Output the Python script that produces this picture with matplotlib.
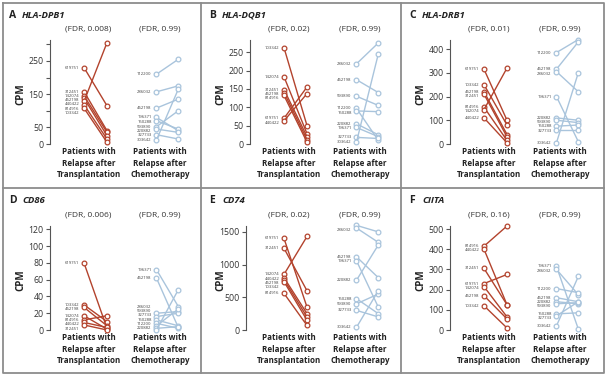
#!/usr/bin/env python3

import matplotlib
matplotlib.use("Agg")
import matplotlib.pyplot as plt
from matplotlib.lines import Line2D

plt.rcParams["font.family"] = ["Open Sans", "DejaVu Sans"]

RED = "#b3432d"
BLUE = "#a9c4dc"
GREY = "#555555"

# ---- data, one block per panel ----
a_gene = "HLA-DPB1"
a_fdr = ("(FDR, 0.008)", "(FDR, 0.99)")
a_tx_ids = ["619751", "312451", "142074", "452198", "440422", "814916", "103342"]
a_tx_pre = [230, 158, 145, 138, 128, 118, 108]
a_tx_post = [115, 40, 35, 25, 305, 15, 5]
a_ch_ids = ["112200", "286032", "452198", "196371", "150288", "593890", "220882", "327733", "303642"]
a_ch_pre = [210, 157, 108, 80, 70, 52, 45, 28, 12]
a_ch_post = [255, 175, 135, 40, 45, 100, 35, 15, 165]
a_ticks = [0, 50, 100, 150, 200, 250, 300]
a_ticklabels = ["0", "50", "", "150", "", "250", ""]

b_gene = "HLA-DQB1"
b_fdr = ("(FDR, 0.02)", "(FDR, 0.99)")
b_tx_ids = ["103342", "142074", "312451", "452198", "814916", "619751", "440422"]
b_tx_pre = [262, 183, 148, 140, 132, 70, 63]
b_tx_post = [50, 28, 20, 12, 5, 155, 137]
b_ch_ids = ["286032", "452198", "593890", "112200", "150288", "220882", "196371", "327733", "303642"]
b_ch_pre = [218, 175, 130, 97, 90, 55, 45, 18, 5]
b_ch_post = [275, 140, 105, 10, 88, 25, 20, 15, 245]
b_ticks = [0, 50, 100, 150, 200, 250]
b_ticklabels = ["0", "50", "100", "150", "200", "250"]

c_gene = "HLA-DRB1"
c_fdr = ("(FDR, 0.01)", "(FDR, 0.99)")
c_tx_ids = ["619751", "103342", "452198", "312451", "814916", "142074", "440422"]
c_tx_pre = [315, 250, 220, 210, 155, 145, 110]
c_tx_post = [100, 80, 40, 30, 15, 320, 5]
c_ch_ids = ["112200", "452198", "286032", "196371", "220882", "593890", "150288", "327733", "303642"]
c_ch_pre = [385, 315, 305, 200, 110, 100, 75, 60, 5]
c_ch_post = [440, 430, 220, 10, 100, 90, 80, 60, 300]
c_ticks = [0, 100, 200, 300, 400]
c_ticklabels = ["0", "100", "200", "300", "400"]

d_gene = "CD86"
d_fdr = ("(FDR, 0.006)", "(FDR, 0.99)")
d_tx_ids = ["619751", "103342", "452198", "142074", "814916", "440422", "312451"]
d_tx_pre = [80, 30, 27, 17, 12, 9, 6]
d_tx_post = [2, 10, 5, 1, 17, 3, 0]
d_ch_ids = ["196371", "452198", "286032", "593890", "327733", "150288", "112200", "220882", "303642"]
d_ch_pre = [72, 62, 20, 16, 12, 8, 5, 2, 0]
d_ch_post = [28, 3, 22, 20, 5, 2, 25, 4, 48]
d_ticks = [0, 20, 40, 60, 80, 100, 120]
d_ticklabels = ["0", "20", "40", "60", "80", "100", "120"]

e_gene = "CD74"
e_fdr = ("(FDR, 0.02)", "(FDR, 0.99)")
e_tx_ids = ["619751", "312451", "142074", "440422", "452198", "103342", "814916"]
e_tx_pre = [1400, 1250, 850, 800, 770, 740, 560]
e_tx_post = [350, 600, 1430, 250, 200, 150, 70]
e_ch_ids = ["112200", "286032", "452198", "196371", "220882", "150288", "593890", "327733", "303642"]
e_ch_pre = [1600, 1560, 1120, 1060, 760, 480, 400, 300, 40]
e_ch_post = [1500, 1340, 800, 350, 1300, 250, 550, 200, 600]
e_ticks = [0, 500, 1000, 1500]
e_ticklabels = ["0", "500", "1000", "1500"]

f_gene = "CIITA"
f_fdr = ("(FDR, 0.16)", "(FDR, 0.99)")
f_tx_ids = ["814916", "440422", "312451", "619751", "142074", "452198", "103342"]
f_tx_pre = [415, 400, 305, 230, 215, 170, 120]
f_tx_post = [515, 125, 125, 275, 65, 55, 10]
f_ch_ids = ["196371", "286032", "112200", "452198", "220882", "593890", "150288", "327733", "303642"]
f_ch_pre = [315, 300, 205, 160, 140, 130, 80, 70, 20]
f_ch_post = [5, 175, 185, 140, 130, 135, 85, 140, 265]
f_ticks = [0, 100, 200, 300, 400, 500]
f_ticklabels = ["0", "100", "200", "300", "400", "500"]

group_labels = ["Patients with\nRelapse after\nTransplantation",
                "Patients with\nRelapse after\nChemotherapy"]

W, H = 607, 376
fig = plt.figure(figsize=(W / 100, H / 100), dpi=100)

UNIT = 23.0          # px per x unit
AX_H = 104.0         # axes height in px
TX = (0.0, 1.0)
CH = (3.15, 4.1)
LABEL_X = (0.2, 3.3)  # text centres sit a bit left of the pairs
GAP = 4.3            # min px between stacked patient ids
FLOOR = -2.5         # lowest px an id may sit at


def px_axes(x, y, w, h):
	return fig.add_axes([x / W, 1 - (y + h) / H, w / W, h / H])


# spread the id labels so they stack like in the paper
def spread(vals, ymax):
	pix = [v / ymax * AX_H for v in vals]
	order = sorted(range(len(pix)), key=lambda i: -pix[i])
	out = list(pix)
	# top down
	for k in range(1, len(order)):
		hi, lo = order[k - 1], order[k]
		if out[hi] - out[lo] < GAP:
			out[lo] = out[hi] - GAP
	# bottom up if we ran out of room
	if out[order[-1]] < FLOOR:
		out[order[-1]] = FLOOR
		for k in range(len(order) - 2, -1, -1):
			hi, lo = order[k], order[k + 1]
			if out[hi] - out[lo] < GAP:
				out[hi] = out[lo] + GAP
	return [p / AX_H * ymax for p in out]


def panel(x0, y0, letter, gene, fdr, tx, ch, ticks, ticklabels, ymax, axis_off=50):
	top = y0 + 40
	ax = px_axes(x0 + axis_off, top, 195 - axis_off, AX_H)
	ax.set_xlim((axis_off - 84) / UNIT, (195 - 84) / UNIT)
	ax.set_ylim(0, ymax)
	ax.patch.set_alpha(0)
	for s in ["top", "right", "bottom"]:
		ax.spines[s].set_visible(False)
	ax.spines["left"].set_color(GREY)
	ax.spines["left"].set_linewidth(0.8)
	ax.set_xticks([])
	ax.set_yticks(ticks)
	ax.set_yticklabels(ticklabels)
	ax.tick_params(axis="y", length=3, width=0.8, color=GREY, labelsize=6.3,
		labelcolor="#333333", pad=1.5)

	for (xs, ids, pre, post, col) in [(TX, tx[0], tx[1], tx[2], RED), (CH, ch[0], ch[1], ch[2], BLUE)]:
		for a, b in zip(pre, post):
			ax.plot(xs, [a, b], color=col, lw=1.0, marker="o", ms=3.4,
				mfc="white", mec=col, mew=0.9, clip_on=False)
		for pid, a, ly in zip(ids, pre, spread(pre, ymax)):
			ax.annotate(pid, xy=(xs[0], ly), xytext=(-3.5, 0), textcoords="offset points",
				ha="right", va="center", fontsize=3.1, color="#444444")

	for gx, lab, f in zip(LABEL_X, group_labels, fdr):
		ax.annotate(lab, xy=(gx, 0), xycoords=("data", "axes fraction"),
			xytext=(0, -2.5), textcoords="offset points", ha="center", va="top",
			fontsize=5.8, fontweight="bold", linespacing=1.3, color="#222222")
		ax.annotate(f, xy=(gx, 1), xycoords=("data", "axes fraction"),
			xytext=(0, 8), textcoords="offset points", ha="center", va="center",
			fontsize=6.0, color="#333333")

	fig.text((x0 + 9) / W, 1 - (y0 + 15) / H, letter, fontsize=7.5, fontweight="bold",
		ha="left", va="center", color="#222222")
	fig.text((x0 + 22) / W, 1 - (y0 + 15) / H, gene, fontsize=6.8, fontweight="bold",
		style="italic", ha="left", va="center", color="#222222")
	fig.text((x0 + 21) / W, 1 - (y0 + 94) / H, "CPM", fontsize=7, fontweight="bold",
		rotation=90, ha="center", va="center", color="#222222")
	return ax


panel(0, 0, "A", a_gene, a_fdr, (a_tx_ids, a_tx_pre, a_tx_post),
	(a_ch_ids, a_ch_pre, a_ch_post), a_ticks, a_ticklabels, 313)
panel(200, 0, "B", b_gene, b_fdr, (b_tx_ids, b_tx_pre, b_tx_post),
	(b_ch_ids, b_ch_pre, b_ch_post), b_ticks, b_ticklabels, 283)
panel(400, 0, "C", c_gene, c_fdr, (c_tx_ids, c_tx_pre, c_tx_post),
	(c_ch_ids, c_ch_pre, c_ch_post), c_ticks, c_ticklabels, 438)
panel(0, 186, "D", d_gene, d_fdr, (d_tx_ids, d_tx_pre, d_tx_post),
	(d_ch_ids, d_ch_pre, d_ch_post), d_ticks, d_ticklabels, 124)
panel(200, 186, "E", e_gene, e_fdr, (e_tx_ids, e_tx_pre, e_tx_post),
	(e_ch_ids, e_ch_pre, e_ch_post), e_ticks, e_ticklabels, 1590, axis_off=46)
panel(400, 186, "F", f_gene, f_fdr, (f_tx_ids, f_tx_pre, f_tx_post),
	(f_ch_ids, f_ch_pre, f_ch_post), f_ticks, f_ticklabels, 515)

# panel frames
frame = dict(color="#8c8c8c", lw=1.3, transform=fig.transFigure)
for xs, ys in [([3, 604, 604, 3, 3], [3, 3, 373, 373, 3]),
		([201, 201], [3, 373]), ([401, 401], [3, 373]), ([3, 604], [188, 188])]:
	fig.add_artist(Line2D([x / W for x in xs], [1 - y / H for y in ys], **frame))

fig.savefig("out.png", dpi=100)
